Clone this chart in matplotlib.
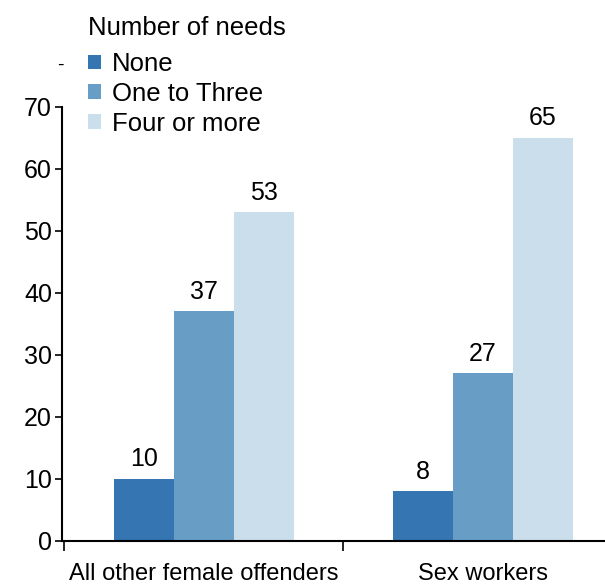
import matplotlib
matplotlib.use("Agg")
import matplotlib.pyplot as plt
import numpy as np

plt.rcParams['font.family'] = ['Liberation Sans', 'DejaVu Sans']

groups = ['All other female offenders', 'Sex workers']
series = ['None', 'One to Three', 'Four or more']
none_vals = [10, 8]
one_three_vals = [37, 27]
four_more_vals = [53, 65]
colors = ['#3575b1', '#689dc6', '#cbdeec']

fig = plt.figure(figsize=(6.05, 5.84), dpi=100)
ax = fig.add_axes([0.102, 0.074, 0.898, 0.743])

x = np.arange(len(groups))
w = 0.215
all_vals = [none_vals, one_three_vals, four_more_vals]
handles = []
for i, (vals, c, name) in enumerate(zip(all_vals, colors, series)):
    bars = ax.bar(x + (i - 1) * w, vals, width=w, color=c, label=name)
    handles.append(bars)
    for b, v in zip(bars, vals):
        ax.text(b.get_x() + b.get_width() / 2, v + 1.2, str(v),
                ha='center', va='bottom', fontsize=18)

ax.set_yticks(np.arange(0, 71, 10))
ax.tick_params(axis='y', labelsize=18, length=5, width=1.2, pad=2)

# group boundary ticks, labels at group centres
ax.set_xticks([-0.5, 0.5, 1.5])
ax.set_xticklabels([])
ax.tick_params(axis='x', which='major', length=7, width=1.2)
ax.set_xticks(x, minor=True)
ax.set_xticklabels(groups, minor=True, fontsize=17)
ax.tick_params(axis='x', which='minor', length=0, pad=16)
ax.set_xlim(-0.509, 1.437)
ax.set_ylim(0, 70)

for s in ['top', 'right']:
    ax.spines[s].set_visible(False)
ax.spines['left'].set_linewidth(1.5)
ax.spines['bottom'].set_linewidth(1.5)

leg = fig.legend(handles=handles, labels=series, loc='upper left',
                 bbox_to_anchor=(0.124, 0.995), frameon=False,
                 title='Number of needs', title_fontsize=18.5, fontsize=18.5,
                 handlelength=0.5, handleheight=0.5, handletextpad=0.45,
                 labelspacing=0.22, alignment='left', borderpad=0.0)
leg._legend_box.align = 'left'
leg._legend_box.sep = 9

fig.text(0.1, 0.888, '-', fontsize=14, ha='center', va='center')

fig.savefig('out.png', dpi=100)
